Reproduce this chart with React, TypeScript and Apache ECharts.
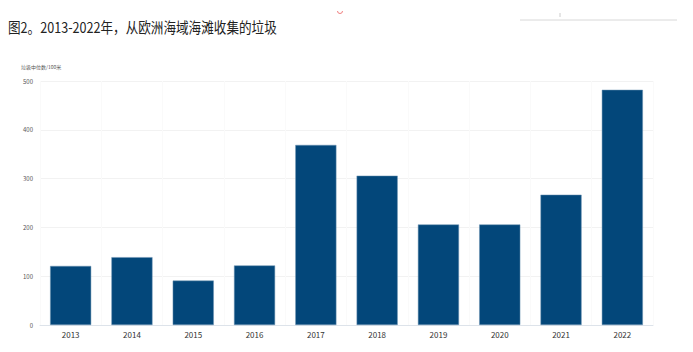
import React, { useEffect, useRef } from "react";
import * as echarts from "echarts";

const categories = ["2013", "2014", "2015", "2016", "2017", "2018", "2019", "2020", "2021", "2022"];
const litterValues = [121, 139, 91, 122, 369, 306, 206, 206, 267, 482];
const yTicks = { min: 0, max: 500, interval: 100 };
const titleText = "图2。2013-2022年，从欧洲海域海滩收集的垃圾";
const yAxisName = "垃圾中位数/100米";

export default function App() {
  const ref = useRef<HTMLDivElement>(null);
  useEffect(() => {
    if (!ref.current) return;
    const chart = echarts.init(ref.current, null, { renderer: "svg" });
    chart.setOption({
      animation: false,
      backgroundColor: "#ffffff",
      textStyle: { fontFamily: "'Noto Sans CJK SC', 'Noto Sans', sans-serif" },
      graphic: [
        {
          type: "text",
          x: 8,
          y: 19,
          scaleX: 0.84,
          style: {
            text: titleText,
            fontSize: 15,
            fill: "#222",
            fontFamily: "'Noto Sans CJK SC', sans-serif",
          },
        },
        {
          type: "line",
          shape: { x1: 520, y1: 20, x2: 677, y2: 20 },
          style: { stroke: "#d8d8d8", lineWidth: 1 },
        },
        {
          type: "line",
          shape: { x1: 560, y1: 13, x2: 560, y2: 17 },
          style: { stroke: "#cccccc", lineWidth: 1 },
        },
        {
          type: "arc",
          shape: { cx: 340, cy: 11, r: 2.5, startAngle: 0, endAngle: Math.PI },
          style: { stroke: "#f08080", fill: "none", lineWidth: 1 },
        },
        {
          type: "text",
          left: 21,
          top: 64,
          style: { text: yAxisName, fontSize: 5, fill: "#555", fontFamily: "'Noto Sans CJK SC', sans-serif" },
        },
      ],
      grid: { left: 40, right: 40, top: 81, bottom: 27, containLabel: false },
      xAxis: {
        type: "category",
        data: categories,
        axisLine: { show: true, lineStyle: { color: "#dde3ea", width: 1 } },
        axisTick: { show: false },
        axisLabel: { fontSize: 8, color: "#333", margin: 5 },
        splitLine: { show: true, lineStyle: { color: "#fafafa", width: 1 } },
      },
      yAxis: {
        type: "value",
        min: yTicks.min,
        max: yTicks.max,
        interval: yTicks.interval,
        axisLine: { show: false },
        axisTick: { show: false },
        axisLabel: { fontSize: 6, color: "#555", margin: 7 },
        splitLine: { show: true, lineStyle: { color: "#f2f2f2", width: 1 } },
      },
      series: [
        {
          type: "bar",
          data: litterValues,
          barWidth: "67%",
          itemStyle: { color: "#03477a", borderColor: "#6d93b3", borderWidth: 0.5 },
        },
      ],
    });
    return () => chart.dispose();
  }, []);
  return (
    <div
      ref={ref}
      style={{ position: "fixed", left: 0, top: 0, width: 693, height: 352 }}
    />
  );
}
